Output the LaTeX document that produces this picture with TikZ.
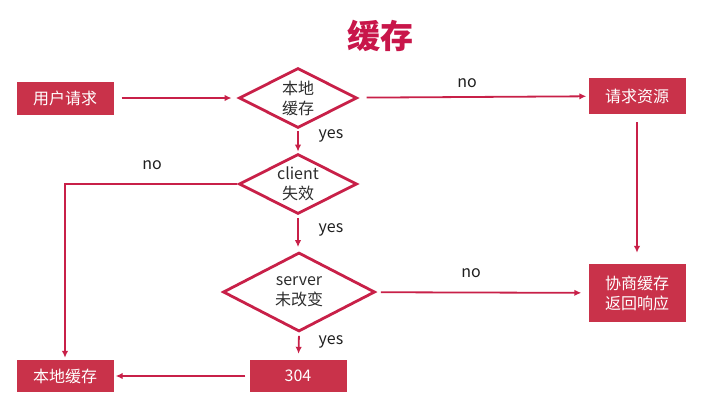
\documentclass[tikz,border=0pt]{standalone}
\usepackage{fontspec}
\setmainfont{Noto Sans CJK SC}
\usetikzlibrary{shapes.geometric,arrows.meta}
\definecolor{boxred}{RGB}{201,50,74}
\definecolor{linered}{RGB}{200,32,72}
\definecolor{titlered}{RGB}{200,22,74}
\definecolor{textgray}{RGB}{45,45,45}
\begin{document}
\begin{tikzpicture}[x=1pt,y=-1pt,
		box/.style={fill=boxred,text=white,minimum width=97pt,inner sep=0pt,align=center,font=\fontsize{16}{20}\selectfont},
		choice/.style={diamond,draw=linered,line width=2.8pt,inner sep=0pt,aspect=2,align=center,text=textgray,font=\fontsize{16}{20}\selectfont},
		flow/.style={draw=linered,line width=1.8pt,-{Latex[length=7pt,width=6.5pt]}},
		note/.style={text=black!88,font=\fontsize{16}{19}\selectfont}]
	\useasboundingbox (0,0) rectangle (707,402);
	\node [text=titlered,font=\fontsize{33}{38}\selectfont\bfseries] (title) at (380,36) {缓存};
	% boxes
	\node [box,minimum height=33pt] (user) at (65,98) {用户请求};
	\node [box,minimum height=36pt] (fetch) at (637,96) {请求资源};
	\node [box,minimum height=58pt] (nego) at (637,293) {协商缓存\\返回响应};
	\node [box,minimum height=32pt] (nm) at (298,376) {304};
	\node [box,minimum height=32pt] (local) at (65,376) {本地缓存};
	% decisions
	\node [choice,minimum width=118pt,minimum height=60pt] (hit) at (298,98) {本地\\缓存};
	\node [choice,minimum width=118pt,minimum height=60pt] (stale) at (298,184) {client\\失效};
	\node [choice,minimum width=152pt,minimum height=79pt] (same) at (299,292) {server\\未改变};
	% flow
	\draw [flow,shorten <=8pt,shorten >=6pt] (user) -- (hit);
	\draw [flow,shorten <=9pt,shorten >=2pt] (hit) -- (fetch);
	\draw [flow,shorten <=2pt,shorten >=1pt] (hit) -- (stale);
	\draw [flow,shorten <=1pt,shorten >=2pt] (stale.west) -| (local.north);
	\draw [flow,shorten <=3pt,shorten >=4pt] (stale) -- (stale|-same.north);
	\draw [flow,shorten <=5pt,shorten >=7pt] (same) -- (nego);
	\draw [flow,shorten <=8pt,shorten >=11pt] (fetch) -- (nego);
	\draw [flow,shorten <=3pt,shorten >=6pt] (same.south) -- (nm);
	\draw [flow,shorten <=4pt,shorten >=2pt] (nm) -- (local);
	% labels
	\node [note] (no1) at (467,83) {no};
	\node [note] (yes1) at (331,136) {yes};
	\node [note] (no2) at (152,165) {no};
	\node [note] (yes2) at (331,230) {yes};
	\node [note] (no3) at (471,273) {no};
	\node [note] (yes3) at (331,342) {yes};
\end{tikzpicture}
\end{document}
